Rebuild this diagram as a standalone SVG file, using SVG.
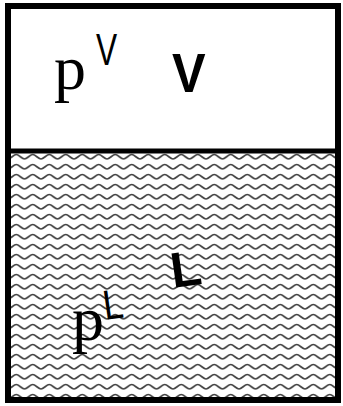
<svg xmlns="http://www.w3.org/2000/svg" width="343" height="406" viewBox="0 0 343 406">
  <defs>
    <pattern id="waves" x="8" y="152" width="16.5" height="10" patternUnits="userSpaceOnUse">
      <path d="M-2,7 L0,7 C2.75,7 5.5,2.5 8.25,2.5 C11,2.5 13.75,7 16.5,7 L18.5,7" fill="none" stroke="#444" stroke-width="1.7"/>
    </pattern>
    <style>
      .serif { font-family: "Liberation Serif", "Times New Roman", serif; fill: #000; }
      .sans { font-family: "Liberation Sans", Arial, sans-serif; fill: #000; }
      .bold { font-weight: bold; }
    </style>
  </defs>
  <rect x="0" y="0" width="343" height="406" fill="#fff"/>
  <g id="liquid">
    <rect x="8" y="151" width="330" height="249" fill="url(#waves)"/>
  </g>
  <g id="frame">
    <rect x="8" y="6" width="330" height="394" fill="none" stroke="#000" stroke-width="6"/>
    <line x1="8" y1="151" x2="338" y2="151" stroke="#000" stroke-width="5"/>
  </g>
  <g id="vapor-labels">
    <text class="serif" x="54" y="89" font-size="64">p</text>
    <text class="sans" font-size="44" transform="translate(96,65) scale(0.72,1)">V</text>
    <text class="sans bold" font-size="56" transform="translate(172,92) scale(0.9,1)">V</text>
  </g>
  <g id="liquid-labels">
    <text class="serif" x="72" y="340" font-size="64">p</text>
    <text class="sans" font-size="42" transform="translate(105,320) rotate(-8) scale(0.85,1)">L</text>
    <text class="sans bold" font-size="50" transform="translate(173,288) rotate(-8)">L</text>
  </g>
</svg>
